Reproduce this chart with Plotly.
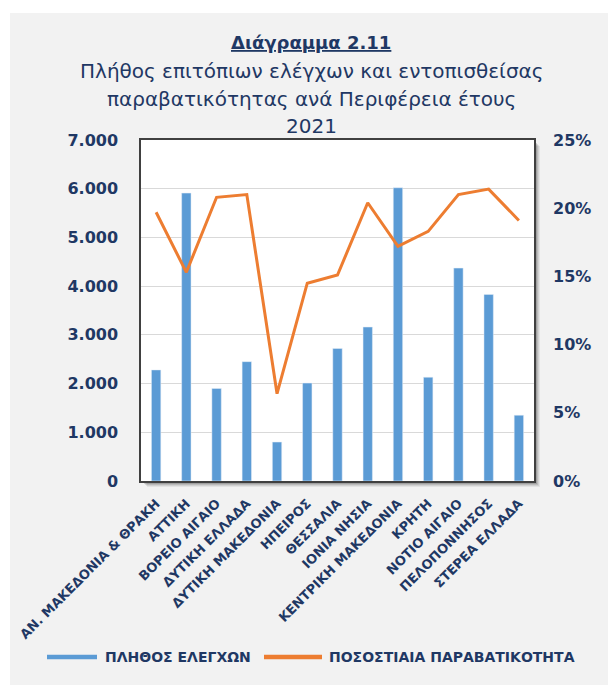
import plotly.graph_objects as go

# Regions (x-axis categories)
regions = [
    "ΑΝ. ΜΑΚΕΔΟΝΙΑ & ΘΡΑΚΗ", "ΑΤΤΙΚΗ", "ΒΟΡΕΙΟ ΑΙΓΑΙΟ", "ΔΥΤΙΚΗ ΕΛΛΑΔΑ",
    "ΔΥΤΙΚΗ ΜΑΚΕΔΟΝΙΑ", "ΗΠΕΙΡΟΣ", "ΘΕΣΣΑΛΙΑ", "ΙΟΝΙΑ ΝΗΣΙΑ",
    "ΚΕΝΤΡΙΚΗ ΜΑΚΕΔΟΝΙΑ", "ΚΡΗΤΗ", "ΝΟΤΙΟ ΑΙΓΑΙΟ", "ΠΕΛΟΠΟΝΝΗΣΟΣ", "ΣΤΕΡΕΑ ΕΛΛΑΔΑ",
]
# Number of on-site inspections per region
inspections = [2280, 5910, 1900, 2450, 800, 2010, 2720, 3160, 6020, 2130, 4370, 3830, 1350]
# Violation rate per region (%)
violation_pct = [19.7, 15.3, 20.8, 21.0, 6.4, 14.5, 15.1, 20.4, 17.2, 18.3, 21.0, 21.4, 19.1]

left_ticks = [0, 1000, 2000, 3000, 4000, 5000, 6000, 7000]
right_ticks = [0, 0.05, 0.10, 0.15, 0.20, 0.25]

series_names = ["ΠΛΗΘΟΣ ΕΛΕΓΧΩΝ", "ΠΟΣΟΣΤΙΑΙΑ ΠΑΡΑΒΑΤΙΚΟΤΗΤΑ"]

BLUE = "#5b9bd5"
ORANGE = "#ed7d31"
NAVY = "#1f3864"
FONT = "DejaVu Sans"

fig = go.Figure()

fig.add_trace(go.Bar(
    x=regions, y=inspections, name=series_names[0],
    marker_color=BLUE, showlegend=False, yaxis="y",
))
fig.add_trace(go.Scatter(
    x=regions, y=[v / 100 for v in violation_pct], name=series_names[1],
    mode="lines", line=dict(color=ORANGE, width=3), yaxis="y2", showlegend=False,
))

# plot-area frame in page pixels
L, R, T, B = 141, 534, 140, 481
W, H = R - L, B - T


def px(x):
    return (x - L) / W


def py(y):
    return (B - y) / H


shapes = [
    # white outer border around the grey panel
    dict(type="rect", xref="paper", yref="paper", x0=px(-5), x1=px(10), y0=py(700), y1=py(-5),
         fillcolor="white", line_width=0, layer="below"),
    dict(type="rect", xref="paper", yref="paper", x0=px(-5), x1=px(620), y0=py(13), y1=py(-5),
         fillcolor="white", line_width=0, layer="below"),
]
# soft drop shadow of the plot frame
for off, op in [(6, 0.06), (5, 0.08), (4, 0.10), (3, 0.14), (2, 0.18)]:
    shapes.append(dict(type="rect", xref="paper", yref="paper",
                       x0=px(L + off), x1=px(R + off), y0=py(B + off), y1=py(T + off),
                       fillcolor=f"rgba(0,0,0,{op})", line_width=0, layer="below"))
shapes.append(dict(type="rect", xref="paper", yref="paper", x0=0, x1=1, y0=0, y1=1,
                   fillcolor="white", line_width=0, layer="below"))

# legend: line swatch + label for each series
LEG_Y = 657
legend_items = [(series_names[0], BLUE, 47, 97, 103), (series_names[1], ORANGE, 264, 322, 327)]
for name, color, lx0, lx1, tx in legend_items:
    shapes.append(dict(type="line", xref="paper", yref="paper",
                       x0=px(lx0), x1=px(lx1), y0=py(LEG_Y), y1=py(LEG_Y),
                       line=dict(color=color, width=4.5)))

title_lines = [
    ("<b><u>Διάγραμμα 2.11</u></b>", 42, 18),
    ("Πλήθος επιτόπιων ελέγχων και εντοπισθείσας", 71, 20),
    ("παραβατικότητας ανά Περιφέρεια έτους", 99, 20),
    ("2021", 126, 20),
]
annotations = [
    dict(text=t, xref="paper", yref="paper", x=px(311), y=py(yy), showarrow=False,
         xanchor="center", yanchor="middle", font=dict(family=FONT, size=sz, color=NAVY))
    for t, yy, sz in title_lines
]
for name, color, lx0, lx1, tx in legend_items:
    annotations.append(dict(text=name, xref="paper", yref="paper", x=px(tx), y=py(LEG_Y),
                            showarrow=False, xanchor="left", yanchor="middle",
                            font=dict(family=FONT, size=14, color=NAVY, weight="bold")))

fig.update_layout(
    width=608, height=685,
    margin=dict(l=L, r=608 - R, t=T, b=685 - B),
    paper_bgcolor="#f2f2f2",
    plot_bgcolor="rgba(0,0,0,0)",
    separators=",.",
    bargap=0.69,
    showlegend=False,
    shapes=shapes,
    annotations=annotations,
    font=dict(family=FONT, color=NAVY),
    xaxis=dict(
        showline=True, linecolor="#404040", linewidth=1.5, mirror=True,
        tickangle=-45, tickfont=dict(family=FONT, size=13, color=NAVY, weight="bold"),
        showgrid=False, ticks="", ticklabelstandoff=8,
    ),
    yaxis=dict(
        range=[0, 7000], tickvals=left_ticks, tickformat=",d",
        showgrid=True, gridcolor="#d9d9d9", gridwidth=1,
        showline=True, linecolor="#404040", linewidth=1.5, mirror=True,
        tickfont=dict(family=FONT, size=16, color=NAVY, weight="bold"),
        ticklabelstandoff=18, zeroline=False,
    ),
    yaxis2=dict(
        range=[0, 0.25], tickvals=right_ticks, tickformat=".0%",
        overlaying="y", side="right", showgrid=False, zeroline=False,
        tickfont=dict(family=FONT, size=16, color=NAVY, weight="bold"),
        ticklabelstandoff=18,
    ),
)

fig.write_html("out.html")
